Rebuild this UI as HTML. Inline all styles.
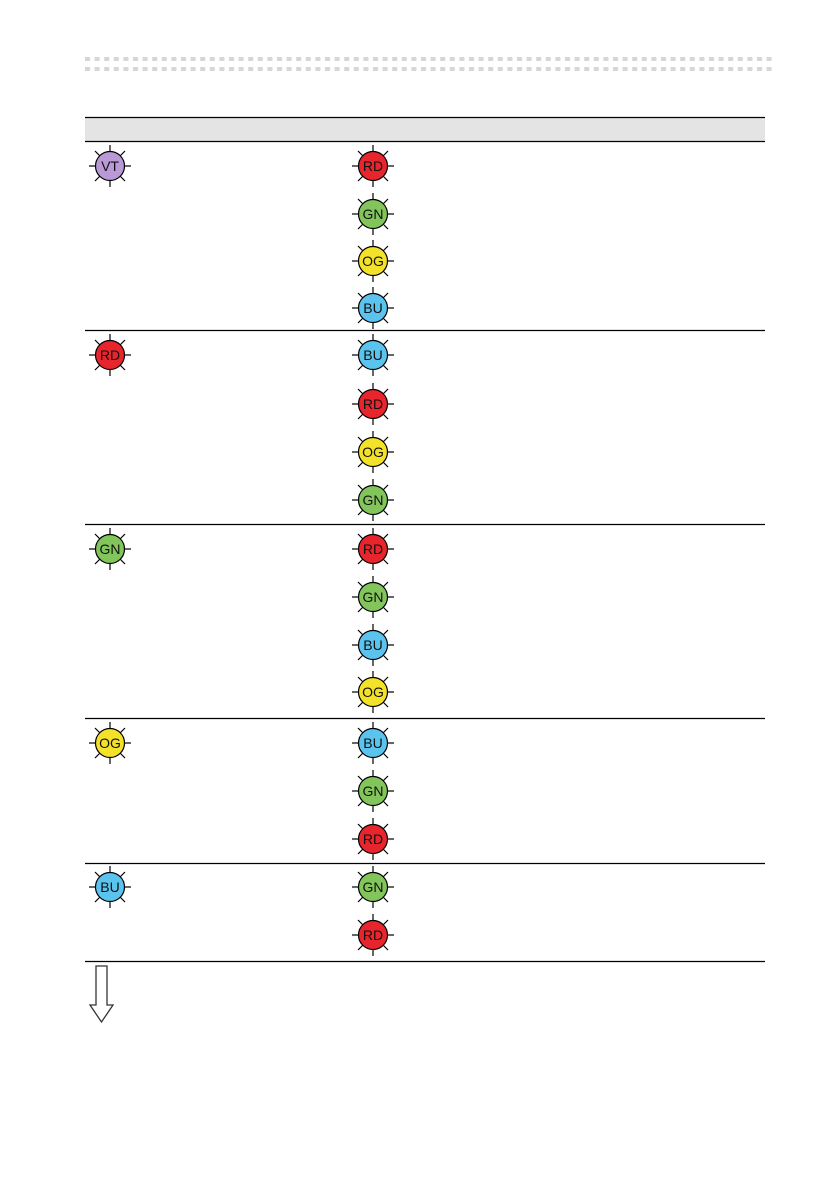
<!DOCTYPE html>
<html><head><meta charset="utf-8">
<style>
html,body{margin:0;padding:0;background:#fff;}
svg{display:block;}
text{font-family:"Liberation Sans",sans-serif;font-size:14px;text-anchor:middle;dominant-baseline:central;fill:#111;}
</style></head>
<body>
<svg width="840" height="1190" viewBox="0 0 840 1190" xmlns="http://www.w3.org/2000/svg">
<defs>
<pattern id="dots" x="85" y="56" width="9.6" height="10" patternUnits="userSpaceOnUse">
<rect x="0" y="1" width="5" height="4" fill="#d6d6d6"/>
<rect x="0" y="11" width="5" height="4" fill="#d6d6d6"/>
</pattern>
<g id="rays" stroke="#000" stroke-width="1.2">
<line x1="0" y1="-14" x2="0" y2="-21"/><line x1="0" y1="14" x2="0" y2="21"/>
<line x1="-14" y1="0" x2="-21" y2="0"/><line x1="14" y1="0" x2="21" y2="0"/>
<line x1="10" y1="-10" x2="15" y2="-15"/><line x1="-10" y1="-10" x2="-15" y2="-15"/>
<line x1="10" y1="10" x2="15" y2="15"/><line x1="-10" y1="10" x2="-15" y2="15"/>
</g>
</defs>
<rect x="85" y="56" width="688" height="17" fill="url(#dots)"/>
<rect x="85" y="117" width="680" height="24" fill="#e4e4e4"/>
<g stroke="#000" stroke-width="1.2">
<line x1="85" y1="117.5" x2="765" y2="117.5"/>
<line x1="85" y1="141.5" x2="765" y2="141.5"/>
<line x1="85" y1="330.5" x2="765" y2="330.5"/>
<line x1="85" y1="524.5" x2="765" y2="524.5"/>
<line x1="85" y1="718.5" x2="765" y2="718.5"/>
<line x1="85" y1="863.5" x2="765" y2="863.5"/>
<line x1="85" y1="961.5" x2="765" y2="961.5"/>
</g>
<path d="M96,966 H107 V1005 H113 L101.5,1022 L90,1005 H96 Z" fill="#fff" stroke="#333" stroke-width="1.3"/>

<g transform="translate(110,166)"><use href="#rays"/><circle r="14.5" fill="#b99ad6" stroke="#000" stroke-width="1.2"/><text>VT</text></g>
<g transform="translate(373,166)"><use href="#rays"/><circle r="14.5" fill="#e8242c" stroke="#000" stroke-width="1.2"/><text>RD</text></g>
<g transform="translate(373,214)"><use href="#rays"/><circle r="14.5" fill="#82c55b" stroke="#000" stroke-width="1.2"/><text>GN</text></g>
<g transform="translate(373,261)"><use href="#rays"/><circle r="14.5" fill="#f4e12a" stroke="#000" stroke-width="1.2"/><text>OG</text></g>
<g transform="translate(373,308)"><use href="#rays"/><circle r="14.5" fill="#5bc4ee" stroke="#000" stroke-width="1.2"/><text>BU</text></g>

<g transform="translate(110,355)"><use href="#rays"/><circle r="14.5" fill="#e8242c" stroke="#000" stroke-width="1.2"/><text>RD</text></g>
<g transform="translate(373,355)"><use href="#rays"/><circle r="14.5" fill="#5bc4ee" stroke="#000" stroke-width="1.2"/><text>BU</text></g>
<g transform="translate(373,404)"><use href="#rays"/><circle r="14.5" fill="#e8242c" stroke="#000" stroke-width="1.2"/><text>RD</text></g>
<g transform="translate(373,452)"><use href="#rays"/><circle r="14.5" fill="#f4e12a" stroke="#000" stroke-width="1.2"/><text>OG</text></g>
<g transform="translate(373,500)"><use href="#rays"/><circle r="14.5" fill="#82c55b" stroke="#000" stroke-width="1.2"/><text>GN</text></g>

<g transform="translate(110,549)"><use href="#rays"/><circle r="14.5" fill="#82c55b" stroke="#000" stroke-width="1.2"/><text>GN</text></g>
<g transform="translate(373,549)"><use href="#rays"/><circle r="14.5" fill="#e8242c" stroke="#000" stroke-width="1.2"/><text>RD</text></g>
<g transform="translate(373,597)"><use href="#rays"/><circle r="14.5" fill="#82c55b" stroke="#000" stroke-width="1.2"/><text>GN</text></g>
<g transform="translate(373,645)"><use href="#rays"/><circle r="14.5" fill="#5bc4ee" stroke="#000" stroke-width="1.2"/><text>BU</text></g>
<g transform="translate(373,692)"><use href="#rays"/><circle r="14.5" fill="#f4e12a" stroke="#000" stroke-width="1.2"/><text>OG</text></g>

<g transform="translate(110,743)"><use href="#rays"/><circle r="14.5" fill="#f4e12a" stroke="#000" stroke-width="1.2"/><text>OG</text></g>
<g transform="translate(373,743)"><use href="#rays"/><circle r="14.5" fill="#5bc4ee" stroke="#000" stroke-width="1.2"/><text>BU</text></g>
<g transform="translate(373,791)"><use href="#rays"/><circle r="14.5" fill="#82c55b" stroke="#000" stroke-width="1.2"/><text>GN</text></g>
<g transform="translate(373,839)"><use href="#rays"/><circle r="14.5" fill="#e8242c" stroke="#000" stroke-width="1.2"/><text>RD</text></g>

<g transform="translate(110,887)"><use href="#rays"/><circle r="14.5" fill="#5bc4ee" stroke="#000" stroke-width="1.2"/><text>BU</text></g>
<g transform="translate(373,887)"><use href="#rays"/><circle r="14.5" fill="#82c55b" stroke="#000" stroke-width="1.2"/><text>GN</text></g>
<g transform="translate(373,935)"><use href="#rays"/><circle r="14.5" fill="#e8242c" stroke="#000" stroke-width="1.2"/><text>RD</text></g>
</svg>
</body></html>
